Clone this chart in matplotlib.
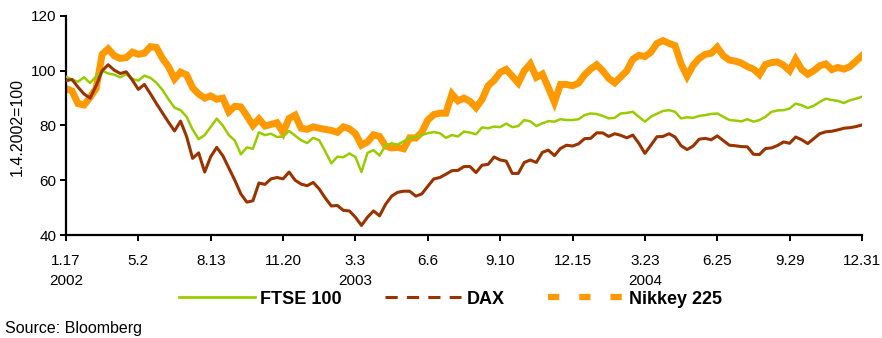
import matplotlib
matplotlib.use("Agg")
import matplotlib.pyplot as plt
from matplotlib.lines import Line2D
import numpy as np

plt.rcParams['font.family'] = ['Liberation Sans', 'DejaVu Sans']

# index levels, 1.4.2002 = 100, one reading roughly every 6 trading days
ftse = [97.8, 96.8, 96.0, 97.6, 95.5, 98.0, 100.0, 99.0, 98.6, 97.6, 98.8, 97.0,
        96.4, 98.2, 97.4, 95.6, 93.0, 89.6, 86.5, 85.6, 83.2, 78.5, 75.0, 76.5,
        79.5, 82.5, 80.0, 76.5, 74.5, 69.5, 72.0, 71.5, 77.5, 76.5, 77.0, 75.8,
        76.0, 78.0, 76.3, 74.6, 73.6, 75.5, 74.6, 70.5, 66.2, 68.6, 68.4, 69.8,
        68.5, 63.0, 70.0, 71.0, 69.0, 72.8, 73.5, 73.0, 74.2, 75.4, 75.8, 76.5,
        77.2, 77.6, 77.2, 75.5, 76.5, 76.0, 77.8, 77.4, 76.8, 79.3, 79.0, 79.6,
        79.4, 80.7, 79.4, 79.8, 82.0, 81.5, 79.8, 80.8, 81.6, 81.4, 82.3, 82.0,
        82.0, 82.3, 83.8, 84.4, 84.2, 83.5, 82.6, 82.8, 84.4, 84.6, 85.0, 83.2,
        81.4, 83.2, 84.3, 85.3, 85.6, 85.0, 82.6, 83.0, 82.8, 83.5, 83.8, 84.2,
        84.4, 83.2, 82.0, 81.8, 81.5, 82.3, 81.4, 82.0, 83.2, 85.0, 85.5, 85.6,
        86.2, 88.0, 87.4, 86.4, 87.2, 88.6, 89.8, 89.3, 89.0, 88.2, 89.2, 89.8,
        90.5]
dax = [96.4, 96.8, 94.0, 91.5, 90.0, 94.5, 100.0, 102.2, 100.2, 99.0, 99.6, 96.6,
       93.2, 95.0, 91.6, 88.0, 84.6, 81.2, 78.0, 81.6, 76.0, 68.0, 70.0, 63.0,
       68.6, 72.0, 69.0, 64.5, 60.0, 55.0, 52.0, 52.5, 59.0, 58.5, 60.5, 61.0,
       60.5, 63.0, 60.0, 58.6, 58.0, 59.2, 56.8, 53.5, 50.6, 50.8, 49.0, 48.8,
       46.5, 43.5, 46.5, 48.8, 47.0, 51.2, 54.2, 55.6, 56.0, 56.0, 54.2, 55.0,
       57.8, 60.5, 61.0, 62.2, 63.5, 63.6, 65.0, 65.0, 62.8, 65.5, 65.8, 68.5,
       67.4, 67.0, 62.5, 62.5, 66.5, 67.4, 66.5, 70.2, 71.0, 69.0, 71.6, 72.8,
       72.5, 73.3, 75.2, 75.3, 77.3, 77.3, 76.0, 77.0, 76.4, 75.5, 76.5, 73.5,
       69.8, 72.8, 75.9, 76.0, 77.0, 75.8, 72.6, 71.2, 72.5, 75.0, 75.3, 74.8,
       76.2, 74.5, 72.8, 72.6, 72.3, 72.2, 69.5, 69.4, 71.6, 71.8, 72.7, 74.0,
       73.5, 75.8, 74.8, 73.4, 75.2, 77.0, 77.7, 77.9, 78.4, 79.0, 79.2, 79.6,
       80.2]
nikkei = [93.5, 92.6, 88.0, 87.5, 90.3, 93.5, 106.0, 108.0, 105.5, 104.5, 104.8, 106.8,
          106.0, 106.4, 108.8, 108.5, 104.5, 101.5, 97.0, 99.5, 98.5, 93.8, 91.5, 90.0,
          90.8, 89.6, 90.0, 85.0, 87.0, 86.8, 83.5, 80.0, 82.4, 79.8, 80.4, 81.0,
          77.4, 82.6, 83.8, 79.0, 78.6, 79.5, 79.0, 78.6, 78.2, 77.5, 79.5, 78.8,
          77.0, 72.8, 74.0, 76.6, 76.0, 72.5, 71.8, 72.0, 71.5, 75.5, 75.4, 77.5,
          82.0, 84.0, 84.5, 84.5, 91.5, 89.0, 90.0, 88.8, 86.5, 89.5, 94.5, 96.5,
          99.4, 100.5, 98.0, 95.5, 100.0, 102.5, 97.6, 98.8, 93.8, 88.5, 95.0, 95.0,
          94.5, 95.5, 98.5, 100.6, 102.2, 100.0, 97.2, 95.6, 97.8, 100.0, 104.2, 105.6,
          105.2, 106.8, 110.0, 111.0, 110.0, 109.2, 102.5, 98.0, 102.0, 104.5, 106.0, 106.4,
          108.6, 105.5, 103.9, 103.5, 102.8, 101.5, 100.6, 98.6, 102.3, 103.0, 103.2, 102.0,
          100.0, 104.2, 100.5, 98.7, 100.0, 101.8, 102.5, 100.4, 101.2, 100.6, 101.5, 103.5,
          105.5]

tick_labels = ["1.17\n2002", "5.2", "8.13", "11.20", "3.3\n2003", "6.6",
               "9.10", "12.15", "3.23\n2004", "6.25", "9.29", "12.31"]

green = "#99CC00"
brown = "#993300"
orange = "#FF9900"

fig = plt.figure(figsize=(8.82, 3.38), dpi=100)
ax = fig.add_axes([0.0748, 0.3047, 0.9025, 0.648])

x = np.arange(len(ftse))
ax.plot(x, nikkei, color=orange, lw=5, solid_joinstyle="miter", zorder=2)
ax.plot(x, ftse, color=green, lw=1.8, zorder=3)
ax.plot(x, dax, color=brown, lw=2.2, zorder=4)

ax.set_xlim(0, len(ftse) - 1)
ax.set_ylim(40, 120)
ax.set_yticks([40, 60, 80, 100, 120])
ax.set_xticks(np.linspace(0, len(ftse) - 1, len(tick_labels)))
ax.set_xticklabels(tick_labels)
for lbl in ax.get_xticklabels():
    lbl.set_linespacing(1.5)

for s in ["top", "right"]:
    ax.spines[s].set_visible(False)
for s in ["left", "bottom"]:
    ax.spines[s].set_linewidth(1.6)
ax.tick_params(axis="both", direction="out", length=4, width=1.4,
               labelsize=11, colors="black")
ax.tick_params(axis="x", pad=10)
ax.tick_params(axis="y", pad=3)

fig.text(17 / 882, 1 - 127 / 338, "1.4.2002=100", rotation=90,
         ha="center", va="center", fontsize=11.5)

handles = [
    Line2D([], [], color=green, lw=2),
    Line2D([], [], color=brown, lw=2.2, dashes=(4, 3)),
    Line2D([], [], color=orange, lw=4.5, dashes=(1.8, 3.2)),
]
fig.legend(handles, ["FTSE 100", "DAX", "Nikkey 225"], loc="center",
           bbox_to_anchor=(0.511, 1 - 299 / 338), ncol=3, frameon=False,
           handlelength=4.2, handletextpad=0.3, columnspacing=2.4,
           prop={"weight": "bold", "size": 13})

fig.text(5 / 882, 1 - 328 / 338, "Source: Bloomberg", ha="left", va="center",
         fontsize=11.5)

fig.savefig("out.png", dpi=100)
